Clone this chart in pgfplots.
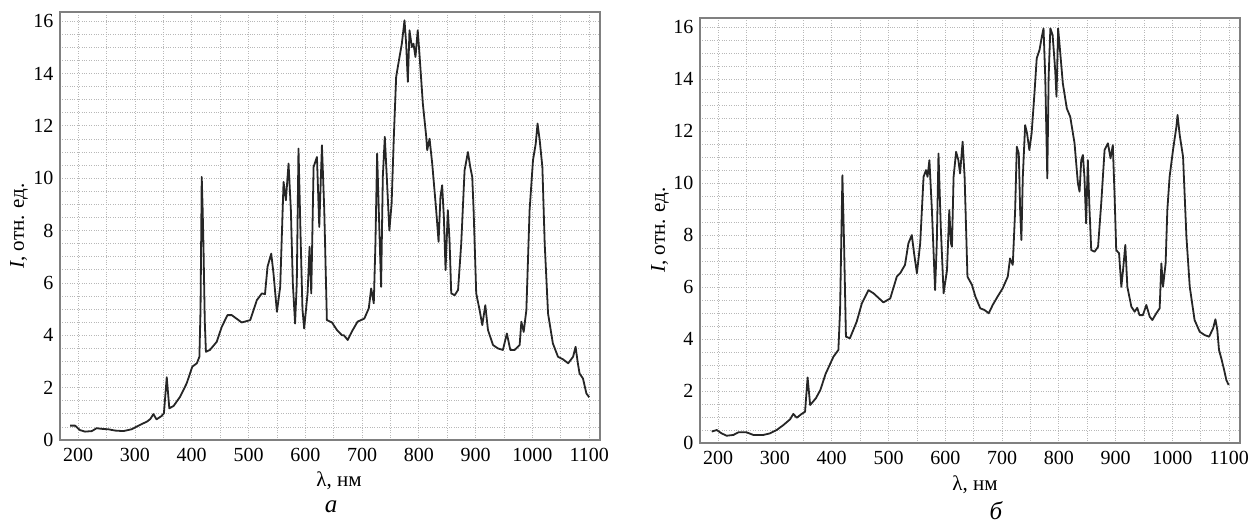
\documentclass[border=0pt]{standalone}
\usepackage{pgfplots}
\pgfplotsset{compat=1.18}
\usepackage{fontspec}
\setmainfont{Liberation Serif}
\pgfplotstableread{
x y
185.7 0.55
194.5 0.55
203 0.38
212 0.32
224 0.34
232.5 0.45
244 0.42
253 0.41
265 0.36
279.6 0.34
294 0.41
303 0.51
312 0.61
321 0.70
327 0.80
332.5 0.99
338 0.79
347 0.92
351 1.02
356 2.40
360.5 1.21
368 1.30
379.5 1.65
391 2.16
401 2.80
409 2.93
413.5 3.18
415.5 5.0
417.6 10.05
419 9.0
420.6 7.5
423 4.5
425 3.37
432 3.44
444 3.75
453 4.33
463 4.77
470.5 4.77
488 4.49
503 4.58
514.6 5.34
523.5 5.6
529 5.57
533.5 6.62
540 7.12
544 6.36
550 4.9
555.8 5.85
561.7 9.86
565.8 9.16
570.5 10.56
574.6 8.78
578 6.0
582 4.45
585 6.0
588 11.13
592 7.5
595 5.0
598 4.26
604 5.6
607.5 7.38
610.5 5.6
614.6 10.43
620.5 10.81
624.6 8.14
629.3 11.26
633.4 8.78
638 4.58
647 4.49
655.8 4.2
664.6 4.0
668 4.0
674.7 3.82
683.5 4.2
692 4.52
704 4.64
711.8 5.03
716 5.79
720.6 5.22
723.5 7.5
726.5 10.94
729.4 8.78
733.5 5.85
736.5 10.05
740 11.58
743.5 10.05
748 8.0
752 9.03
755.9 11.58
760 13.87
765.9 14.63
770 15.14
774.7 16.03
777.6 15.14
780.6 13.68
783.5 15.65
787.6 15.01
790.5 15.14
794 14.63
798 15.65
801 14.76
807 12.85
813 11.58
814.7 11.07
818.8 11.51
823.5 10.56
830.5 8.78
834.7 7.57
838 9.29
841 9.73
844 8.52
847 6.49
851 8.78
854 7.63
857 5.6
863 5.53
869 5.73
874.6 7.5
880.5 10.3
886.4 11.0
890.5 10.43
894 10.05
896.4 8.78
901 5.6
907 4.96
911.7 4.39
917 5.15
921.7 4.2
930.5 3.63
939 3.5
948 3.44
955 4.07
961 3.44
968.7 3.44
977.5 3.63
980.5 4.52
984.6 4.13
989.3 4.96
995 8.78
1001 10.69
1005.8 11.32
1009 12.09
1012.8 11.45
1017.5 10.43
1021.6 7.5
1027.5 4.83
1036 3.69
1045 3.18
1054 3.08
1063 2.93
1071.6 3.18
1076 3.56
1080 2.93
1083 2.54
1089 2.35
1095 1.78
1100 1.63
}\specA
\pgfplotstableread{
x y
188.7 0.44
197.5 0.50
206 0.37
215 0.28
226.8 0.31
235.6 0.41
250 0.41
262 0.31
279.6 0.31
291 0.37
303 0.50
314.8 0.69
326.6 0.91
332.4 1.12
338.4 0.97
347 1.12
353 1.20
357.5 2.52
362 1.46
372 1.72
380 2.04
389 2.65
403 3.32
411.7 3.58
414.7 5.12
418.8 10.3
421.7 7.68
425 4.09
432 4.03
444 4.67
453 5.37
464.7 5.88
473.5 5.76
491 5.41
503 5.56
514.6 6.4
520.5 6.53
529 6.85
535 7.68
541 8.0
545 7.3
550 6.53
555.8 7.68
561.7 10.24
566 10.5
568.7 10.24
572 10.88
576.4 8.96
582 5.88
585 7.68
588 11.14
592 8.32
597 5.76
603 6.65
607 8.96
610 7.68
611.7 7.55
614.6 10.24
619 11.2
623 10.88
626 10.37
630.5 11.59
634 10.24
639 6.4
647 6.08
653 5.63
661.6 5.18
668.8 5.12
676.5 4.99
683.5 5.31
692 5.63
701 5.95
710 6.4
714 7.1
718.8 6.85
723 8.96
725.9 11.4
729.4 11.14
731.8 8.96
734 7.81
736.5 10.24
740.6 12.23
744 11.91
748 11.27
752 11.91
757 13.45
761 14.8
765.9 15.12
770 15.63
773 15.95
776 14.09
779.6 10.18
782 14.09
785 15.95
789 15.69
793.5 14.35
795.8 13.32
798.7 15.95
802 15.12
807 13.83
814 12.87
820 12.55
827.6 11.53
833.5 9.99
836.4 9.67
839.4 10.88
842.3 11.08
845 10.24
848 8.45
851 10.88
854 8.96
857 7.42
863 7.36
869 7.55
874.6 9.22
880.5 11.27
886.4 11.53
891 10.95
895 11.46
898 9.6
901 7.42
906 7.3
910 6.01
913 6.65
917 7.62
920.6 6.01
927.7 5.24
933.5 5.05
938 5.2
942 4.92
948 4.92
954 5.31
960 4.86
964.6 4.73
971.6 4.99
977.5 5.18
980.5 6.91
983.4 6.01
988 6.91
991 8.96
995 10.24
1001 11.27
1007 12.17
1009 12.62
1012.8 11.85
1018.7 11.01
1024.6 7.94
1030.5 6.01
1039 4.73
1048 4.28
1057 4.15
1064.6 4.09
1071.6 4.41
1075.7 4.76
1079 4.35
1082 3.58
1086 3.26
1090.4 2.87
1095 2.42
1099 2.23
}\specB
\pgfplotsset{spec/.style={
  scale only axis, width=540pt,
  xmin=168, xmax=1119, ymin=0, ymax=16.35,
  xtick={200,300,...,1100}, minor x tick num=1,
  ytick={0,2,...,16}, minor y tick num=3,
  grid=both,
  major grid style={dotted, black!28, line width=0.8pt},
  minor grid style={dotted, black!28, line width=0.8pt},
  tick style={draw=none},
  axis line style={draw=black!50, line width=1.5pt},
  ticklabel style={font=\fontsize{20}{20}\selectfont},
  /pgf/number format/assume math mode=true,
  /pgf/number format/1000 sep={},
  xticklabel style={yshift=-5pt},
  yticklabel style={xshift=-3pt},
}}
\begin{document}
\begin{tikzpicture}[x=1pt,y=1pt]
\useasboundingbox (0,0) rectangle (1248,525);
\begin{axis}[spec, height=428pt, at={(60pt,85pt)}, anchor=south west]
\addplot[line width=1.8pt, color=black!85, line join=round] table[x=x,y=y] {\specA};
\end{axis}
\begin{axis}[spec, height=425pt, at={(700pt,82pt)}, anchor=south west]
\addplot[line width=1.8pt, color=black!85, line join=round] table[x=x,y=y] {\specB};
\end{axis}
\node[rotate=90, font=\fontsize{21}{21}\selectfont] at (19,299) {\textit{I}, отн. ед.};
\node[rotate=90, font=\fontsize{21}{21}\selectfont] at (660,295) {\textit{I}, отн. ед.};
\node[font=\fontsize{21}{21}\selectfont] at (339,44) {λ, нм};
\node[font=\fontsize{21}{21}\selectfont] at (975,40) {λ, нм};
\node[inner sep=0pt, font=\fontsize{25}{25}\selectfont\itshape] at (331,18) {а};
\node[inner sep=0pt, font=\fontsize{25}{25}\selectfont\itshape] at (996,14) {б};
\end{tikzpicture}
\end{document}
